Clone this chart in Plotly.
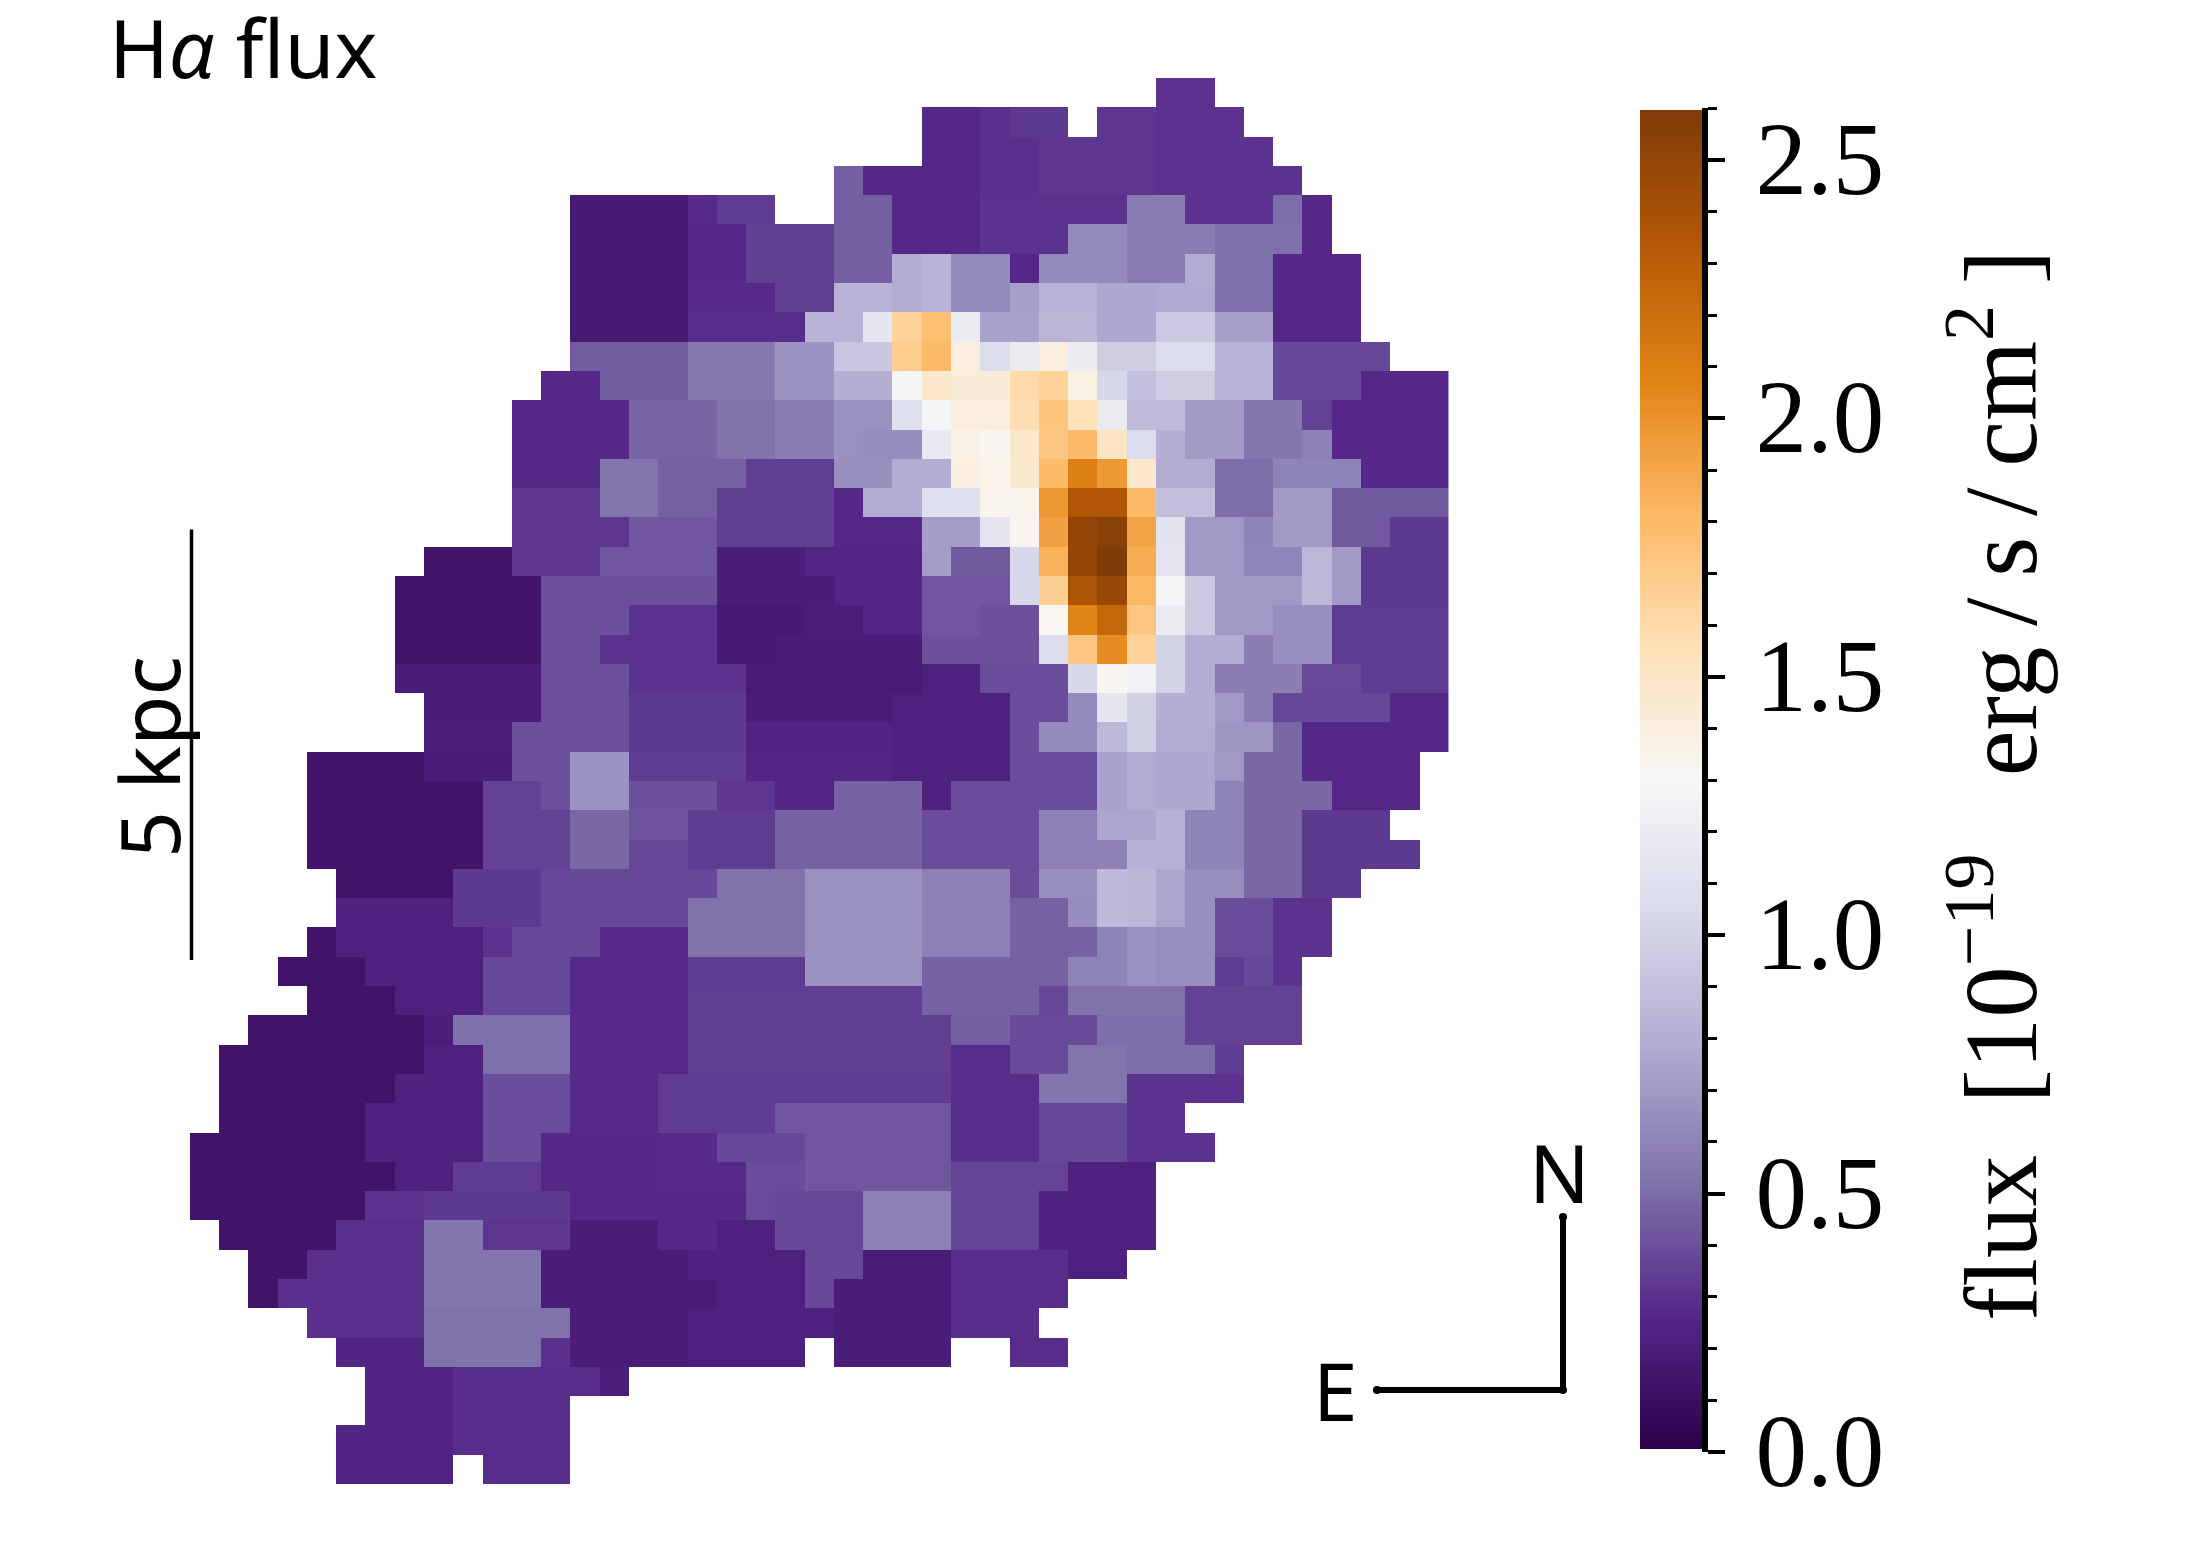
import plotly.graph_objects as go

W, H = 2186, 1562
N_COLS, N_ROWS = 43, 48

# Each row: runs of (first column, last column, flux in 1e-19 erg/s/cm2)
flux_runs = [
    [(33,34,.30)],
    [(25,26,.26),(27,27,.29),(28,29,.32),(31,32,.31),(33,35,.30)],
    [(25,26,.26),(27,28,.29),(29,32,.31),(33,36,.30)],
    [(22,22,.45),(23,26,.26),(27,28,.29),(29,32,.31),(33,37,.30)],
    [(13,16,.17),(17,17,.27),(18,19,.33),(22,23,.45),(24,26,.26),(27,31,.30),(32,33,.56),(34,36,.30),(37,37,.50),(38,38,.26)],
    [(13,16,.17),(17,18,.26),(19,21,.34),(22,23,.45),(24,26,.26),(27,29,.30),(30,31,.62),(32,34,.56),(35,37,.51),(38,38,.26)],
    [(13,16,.17),(17,18,.26),(19,21,.34),(22,23,.45),(24,24,.78),(25,25,.82),(26,27,.62),(28,28,.26),(29,31,.62),(32,33,.56),(34,34,.78),(35,36,.51),(37,39,.26)],
    [(13,16,.17),(17,19,.27),(20,21,.34),(22,23,.82),(24,24,.78),(25,25,.82),(26,27,.62),(28,28,.72),(29,30,.82),(31,32,.76),(33,34,.77),(35,36,.51),(37,39,.26)],
    [(13,16,.17),(17,20,.28),(21,22,.82),(23,23,1.15),(24,24,1.65),(25,25,1.77),(26,26,1.2),(27,28,.74),(29,30,.84),(31,32,.76),(33,34,.95),(35,36,.72),(37,39,.26)],
    [(13,16,.44),(17,19,.55),(20,21,.67),(22,23,.93),(24,24,1.68),(25,25,1.8),(26,26,1.4),(27,27,1.07),(28,28,1.2),(29,29,1.4),(30,30,1.2),(31,32,.97),(33,34,1.07),(35,36,.82),(37,40,.37)],
    [(12,13,.26),(14,16,.44),(17,19,.55),(20,21,.67),(22,23,.80),(24,24,1.28),(25,25,1.47),(26,27,1.42),(28,28,1.6),(29,29,1.65),(30,30,1.38),(31,31,1.03),(32,32,.9),(33,34,.97),(35,36,.82),(37,39,.37),(40,42,.26)],
    [(11,14,.26),(15,17,.47),(18,19,.52),(20,21,.57),(22,23,.66),(24,24,1.1),(25,25,1.27),(26,27,1.41),(28,28,1.58),(29,29,1.74),(30,30,1.54),(31,31,1.2),(32,33,.87),(34,35,.70),(36,37,.54),(38,38,.35),(39,42,.26)],
    [(11,14,.26),(15,17,.47),(18,19,.52),(20,21,.57),(22,22,.66),(23,24,.64),(25,25,1.17),(26,26,1.37),(27,27,1.33),(28,28,1.47),(29,29,1.72),(30,30,1.8),(31,31,1.5),(32,32,1.07),(33,33,.80),(34,35,.70),(36,37,.54),(38,38,.58),(39,42,.26)],
    [(11,13,.26),(14,15,.53),(16,18,.46),(19,21,.34),(22,23,.65),(24,25,.79),(26,26,1.4),(27,27,1.36),(28,28,1.46),(29,29,1.8),(30,30,2.1),(31,31,1.97),(32,32,1.47),(33,34,.79),(35,36,.50),(37,39,.60),(40,42,.26)],
    [(11,13,.31),(14,15,.53),(16,17,.46),(18,21,.34),(22,22,.26),(23,24,.78),(25,26,1.09),(27,28,1.34),(29,29,1.97),(30,30,2.35),(31,31,2.35),(32,32,1.8),(33,34,.89),(35,36,.50),(37,38,.70),(39,42,.43)],
    [(11,14,.31),(15,17,.42),(18,21,.34),(22,24,.26),(25,26,.71),(27,27,1.13),(28,28,1.33),(29,29,1.93),(30,30,2.5),(31,31,2.55),(32,32,1.92),(33,33,1.12),(34,35,.69),(36,36,.60),(37,38,.70),(39,40,.43),(41,42,.32)],
    [(8,10,.13),(11,13,.31),(14,17,.42),(18,20,.19),(21,24,.25),(25,25,.71),(26,27,.43),(28,28,1.03),(29,29,1.85),(30,30,2.5),(31,31,2.6),(32,32,1.88),(33,33,1.14),(34,35,.69),(36,37,.61),(38,38,.85),(39,39,.70),(40,42,.32)],
    [(7,11,.13),(12,17,.40),(18,21,.19),(22,24,.25),(25,27,.42),(28,28,1.03),(29,29,1.67),(30,30,2.38),(31,31,2.48),(32,32,1.82),(33,33,1.27),(34,34,.95),(35,37,.69),(38,38,.85),(39,39,.70),(40,42,.32)],
    [(7,11,.13),(12,14,.40),(15,17,.30),(18,20,.17),(21,22,.20),(23,24,.25),(25,26,.42),(27,28,.40),(29,29,1.32),(30,30,2.07),(31,31,2.25),(32,32,1.72),(33,33,1.2),(34,34,.95),(35,36,.69),(37,38,.65),(39,42,.33)],
    [(7,11,.13),(12,13,.40),(14,17,.30),(18,19,.17),(20,24,.19),(25,28,.40),(29,29,1.08),(30,30,1.72),(31,31,2.03),(32,32,1.65),(33,33,1.0),(34,35,.79),(36,36,.57),(37,38,.65),(39,42,.33)],
    [(7,11,.19),(12,14,.40),(15,18,.30),(19,24,.18),(25,26,.22),(27,29,.39),(30,30,1.03),(31,31,1.33),(32,32,1.25),(33,33,1.0),(34,34,.79),(35,37,.57),(38,39,.38),(40,42,.33)],
    [(8,11,.19),(12,14,.40),(15,18,.32),(19,23,.19),(24,27,.22),(28,29,.39),(30,30,.62),(31,31,1.15),(32,32,.99),(33,34,.80),(35,35,.69),(36,36,.56),(37,40,.37),(41,42,.26)],
    [(8,10,.20),(11,14,.40),(15,18,.32),(19,23,.24),(24,27,.22),(28,28,.39),(29,30,.63),(31,31,.85),(32,32,.98),(33,34,.79),(35,36,.68),(37,37,.48),(38,42,.26)],
    [(4,7,.13),(8,10,.19),(11,12,.40),(13,14,.67),(15,18,.33),(19,23,.25),(24,27,.22),(28,30,.39),(31,31,.74),(32,32,.78),(33,34,.76),(35,35,.69),(36,37,.48),(38,41,.26)],
    [(4,9,.13),(10,11,.35),(12,12,.40),(13,14,.67),(15,17,.40),(18,19,.31),(20,21,.25),(22,24,.46),(25,25,.22),(26,30,.39),(31,31,.74),(32,32,.78),(33,34,.76),(35,35,.60),(36,38,.48),(39,41,.26)],
    [(4,9,.13),(10,12,.35),(13,14,.48),(15,16,.41),(17,19,.33),(20,24,.46),(25,28,.39),(29,30,.58),(31,32,.75),(33,33,.81),(34,35,.60),(36,37,.48),(38,40,.32)],
    [(4,9,.13),(10,12,.35),(13,14,.48),(15,16,.37),(17,19,.33),(20,24,.46),(25,28,.39),(29,31,.58),(32,33,.81),(34,35,.60),(36,37,.48),(38,41,.32)],
    [(5,8,.13),(9,11,.32),(12,17,.37),(18,20,.52),(21,24,.66),(25,27,.58),(28,28,.39),(29,30,.65),(31,31,.86),(32,32,.84),(33,33,.75),(34,35,.65),(36,37,.48),(38,39,.32)],
    [(5,8,.22),(9,11,.32),(12,16,.37),(17,20,.52),(21,24,.66),(25,27,.58),(28,29,.46),(30,30,.64),(31,31,.86),(32,32,.84),(33,33,.75),(34,34,.65),(35,36,.39),(37,38,.30)],
    [(4,4,.13),(5,9,.22),(10,10,.30),(11,13,.37),(14,16,.27),(17,20,.52),(21,24,.66),(25,27,.58),(28,30,.46),(31,31,.60),(32,32,.66),(33,34,.65),(35,36,.39),(37,38,.30)],
    [(3,5,.13),(6,9,.22),(10,12,.37),(13,16,.27),(17,20,.33),(21,24,.66),(25,29,.46),(30,31,.60),(32,32,.66),(33,34,.65),(35,35,.33),(36,36,.37),(37,37,.30)],
    [(4,6,.13),(7,9,.22),(10,12,.37),(13,16,.27),(17,24,.34),(25,28,.46),(29,29,.37),(30,33,.52),(34,37,.35)],
    [(2,7,.13),(8,8,.20),(9,12,.51),(13,16,.27),(17,25,.34),(26,27,.45),(28,30,.38),(31,33,.50),(34,37,.35)],
    [(1,7,.13),(8,9,.22),(10,12,.51),(13,16,.27),(17,25,.34),(26,27,.28),(28,29,.38),(30,31,.53),(32,34,.50),(35,35,.33)],
    [(1,6,.13),(7,9,.22),(10,12,.39),(13,15,.27),(16,25,.33),(26,28,.28),(29,31,.53),(32,35,.30)],
    [(1,5,.13),(6,9,.22),(10,12,.39),(13,15,.27),(16,19,.33),(20,25,.42),(26,28,.28),(29,31,.37),(32,33,.30)],
    [(0,5,.13),(6,9,.22),(10,11,.39),(12,15,.26),(16,17,.27),(18,20,.37),(21,25,.42),(26,28,.28),(29,31,.37),(32,34,.30)],
    [(0,6,.13),(7,8,.22),(9,11,.33),(12,15,.26),(16,18,.27),(19,20,.39),(21,25,.42),(26,29,.36),(30,32,.22)],
    [(0,5,.13),(6,7,.30),(8,12,.32),(13,18,.26),(19,19,.39),(20,22,.37),(23,25,.58),(26,28,.36),(29,32,.22)],
    [(1,4,.13),(5,7,.29),(8,9,.54),(10,12,.31),(13,15,.19),(16,17,.26),(18,19,.22),(20,22,.37),(23,25,.58),(26,28,.36),(29,32,.22)],
    [(2,3,.13),(4,7,.29),(8,11,.53),(12,16,.19),(17,20,.22),(21,22,.37),(23,25,.19),(26,29,.28),(30,31,.22)],
    [(2,2,.13),(3,7,.29),(8,11,.53),(12,17,.19),(18,20,.22),(21,21,.37),(22,25,.19),(26,29,.28)],
    [(4,7,.29),(8,12,.52),(13,16,.19),(17,21,.22),(22,25,.19),(26,28,.28)],
    [(5,7,.24),(8,11,.52),(12,12,.29),(13,16,.19),(17,20,.22),(22,25,.19),(28,29,.28)],
    [(6,8,.24),(9,13,.28),(14,14,.20)],
    [(6,8,.24),(9,12,.28)],
    [(5,8,.24),(9,12,.28)],
    [(5,8,.24),(10,12,.28)],
]

cmap_colors = ["#2d004b","#542788","#8073ac","#b2abd2","#d8daeb","#f7f7f7",
               "#fee0b6","#fdb863","#e08214","#b35806","#7f3b08"]
flux_min, flux_max = 0.0, 2.6
major_ticks = [0.0, 0.5, 1.0, 1.5, 2.0, 2.5]
major_labels = ["0.0", "0.5", "1.0", "1.5", "2.0", "2.5"]
title_text = "H<i>α</i> flux"
NB, TH = "\u00a0", "\u2009"
cbar_title = ("flux" + NB * 2 + "[10<sup>−19</sup>" + NB * 3 + "erg" + TH + "/" + TH + "s" + TH + "/" + TH
              + "cm<sup>2</sup>" + TH + "]")

z = [[None] * N_COLS for _ in range(N_ROWS)]
for r, runs in enumerate(flux_runs):
    for a, b, v in runs:
        for c in range(a, b + 1):
            z[r][c] = v

px = lambda x: x / W
py = lambda y: 1 - y / H
scale = [[i / 10, c] for i, c in enumerate(cmap_colors)]

fig = go.Figure()
fig.add_trace(go.Heatmap(
    z=z, x=list(range(N_COLS)), y=list(range(N_ROWS)),
    colorscale=scale, zmin=flux_min, zmax=flux_max, hoverongaps=False,
    colorbar=dict(x=px(1640), xanchor="left", xpad=0, ypad=0, thickness=62,
                  lenmode="pixels", len=1339, y=py(109.6), yanchor="top",
                  outlinewidth=0, ticks="", showticklabels=False),
))
# tick axis beside the colour bar
fig.add_trace(go.Scatter(x=[None], y=[None], xaxis="x2", yaxis="y2", showlegend=False, hoverinfo="skip"))

fig.update_layout(
    width=W, height=H, autosize=False, paper_bgcolor="white", plot_bgcolor="white",
    margin=dict(l=0, r=0, t=0, b=0, pad=0, autoexpand=False), showlegend=False,
    xaxis=dict(domain=[px(189.8), px(1448.6)], range=[-0.5, N_COLS - 0.5], visible=False),
    yaxis=dict(domain=[py(1484.4), py(78)], range=[N_ROWS - 0.5, -0.5], visible=False),
    xaxis2=dict(domain=[px(1640), px(1702)], range=[0, 1], visible=False, anchor="y2"),
    yaxis2=dict(domain=[py(1452), py(108.3)], range=[flux_min, flux_max], anchor="free",
                position=px(1705), side="right", showgrid=False, zeroline=False,
                showline=True, linecolor="black", linewidth=6,
                tickmode="array", tickvals=major_ticks, ticktext=major_labels,
                ticks="outside", ticklen=17, tickwidth=4, tickcolor="black",
                ticklabelstandoff=10, ticklabelshift=-2,
                tickfont=dict(family="Liberation Serif", size=103, color="black"),
                minor=dict(ticks="outside", dtick=0.1, tick0=0, ticklen=9, tickwidth=3,
                           tickcolor="black", showgrid=False)),
)

def note(text, x, y, size, xanchor="center", yanchor="middle", angle=0, family=None):
    fig.add_annotation(text=text, x=px(x), y=py(y), xref="paper", yref="paper", showarrow=False,
                       xanchor=xanchor, yanchor=yanchor, textangle=angle,
                       font=dict(family=family or "Noto Sans", size=size, color="black"),
                       borderpad=0, borderwidth=0)

note(title_text, 109, 47, 81, xanchor="left")
note("5 kpc", 148, 757, 82, angle=-90)
note("N", 1559, 1171, 80)
note("E", 1335, 1389, 80)
note(cbar_title, 1993, 786, 103, angle=-90, family="Liberation Serif")

def seg(x0, y0, x1, y1, w):
    fig.add_shape(type="line", xref="paper", yref="paper", x0=px(x0), y0=py(y0), x1=px(x1), y1=py(y1),
                  line=dict(color="black", width=w))
def dot(x, y, r):
    fig.add_shape(type="circle", xref="paper", yref="paper", x0=px(x - r), x1=px(x + r),
                  y0=py(y - r), y1=py(y + r), fillcolor="black", line=dict(width=0))

seg(191.5, 529.6, 191.5, 960, 3.5)
seg(1377, 1390, 1563, 1390, 6)
seg(1563, 1217, 1563, 1390, 6)
for x, y in [(1377, 1390), (1563, 1390), (1563, 1217)]:
    dot(x, y, 4)

fig.write_html("out.html", post_script="document.body.style.margin='0';",
               config={"displayModeBar": False})
